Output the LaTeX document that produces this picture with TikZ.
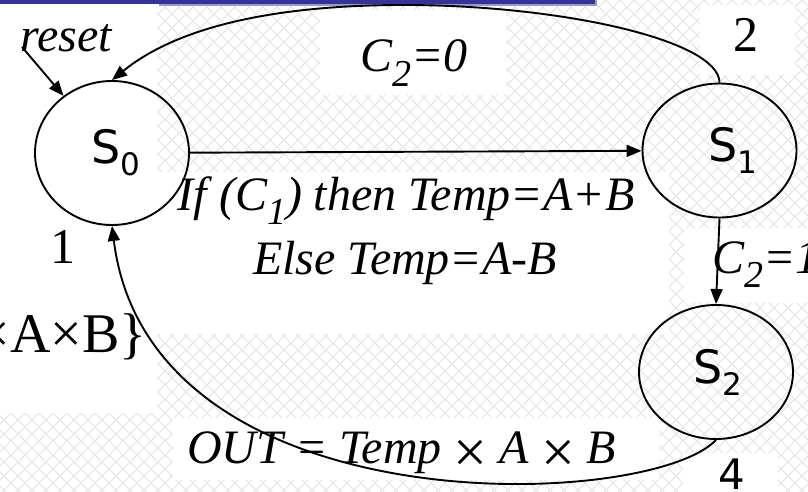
\documentclass[tikz,border=0pt]{standalone}
\usepackage{fontspec}
\setmainfont{Liberation Serif}
\newfontfamily\sansf{DejaVu Sans}
\usetikzlibrary{shapes.geometric,arrows.meta}
\definecolor{bardark}{HTML}{333399}
\definecolor{barlight}{HTML}{9999CC}
\newcommand\sbx[1]{\raisebox{-0.3em}{\fontsize{38}{38}\selectfont #1}}
\newcommand\slab[1]{{\sansf\fontsize{46}{46}\selectfont S\raisebox{-12pt}{\fontsize{31}{31}\selectfont #1}}}
\newcommand\bigx{\raisebox{-9pt}{\upshape\fontsize{60}{60}\selectfont ×}}
\begin{document}
\begin{tikzpicture}[x=1pt,y=-1pt,
  statebox/.style={draw, ellipse, line width=1.9pt, minimum width=154pt, minimum height=134pt, inner sep=0pt},
  arr/.style={line width=1.9pt, -{Triangle[length=15pt,width=12pt]}},
  itl/.style={font=\fontsize{48}{56}\selectfont\itshape, inner sep=0pt},
  rml/.style={font=\fontsize{50}{56}\selectfont, inner sep=0pt},
  hatch/.style={draw=black!9, line width=1.1pt},
  whitebox/.style={fill=white, draw=none}]
\useasboundingbox (0,0) rectangle (808,492);
\clip (0,0) rectangle (808,492);
% background texture
\foreach \k in {-500,-486,...,1310} {
  \draw[hatch] (\k,0) -- ++(492,492);
  \draw[hatch] (\k,0) -- ++(-492,492);
}
\fill[whitebox] (0,0) rectangle (157,413);
\fill[whitebox] (320,10) rectangle (506,95);
\fill[whitebox] (157,172) rectangle (669,334);
\fill[whitebox] (700,5) rectangle (795,75);
\fill[whitebox] (684,228) rectangle (808,303);
\fill[whitebox] (173,418) rectangle (659,480);
\fill[whitebox] (683,453) rectangle (778,492);
% title bar
\fill[barlight] (159,0) rectangle (597,6.5);
\fill[bardark] (0,0) rectangle (595,4);
% states
\node[statebox, minimum height=144pt] (s0) at (112,153) {\hspace{8pt}\slab{0}};
\node[statebox] (s1) at (719.5,150.5) {\hspace{26pt}\slab{1}};
\node[statebox] (s2) at (716,372) {\hspace{4pt}\slab{2}};
% connectors
\coordinate (rs) at (22,47);
\coordinate (pk) at (404,5);
\draw[arr] (rs) -- (s0);
\draw[arr] (s0) -- (s1);
\draw[arr] (s1.south) -- (s2.north);
\draw[arr] (s1.north) .. controls (719,40) and (560,5) .. (pk)
                     .. controls (280,5) and (180,25) .. (s0.north);
\draw[arr] (s2.south) .. controls (650,510) and (150,530) .. (s0.south);
% labels
\node[itl, anchor=base west] (lreset) at (20,52) {reset};
\node[itl, anchor=base west] (lc20) at (360,72) {C\sbx{2}=0};
\node[rml, anchor=base] (n2) at (746,52) {2};
\node[rml, anchor=base] (n1) at (63,263) {1};
\node[itl, anchor=base] (lif) at (406,210) {If (C\sbx{1}) then Temp=A+B};
\node[itl, anchor=base] (lelse) at (405,274) {Else Temp=A-B};
\node[itl, anchor=base west] (lc21) at (712,273) {C\sbx{2}=1};
\node[font=\fontsize{56}{60}\selectfont, inner sep=0pt, anchor=base east] (lab) at (147,352) {×A×B\}};
\node[itl, anchor=base west] (lout) at (187,463) {OUT = Temp \bigx{} A \bigx{} B};
\node[font=\sansf\fontsize{42}{44}\selectfont, inner sep=0pt, anchor=base] (n4) at (731.5,489) {4};
\end{tikzpicture}
\end{document}
